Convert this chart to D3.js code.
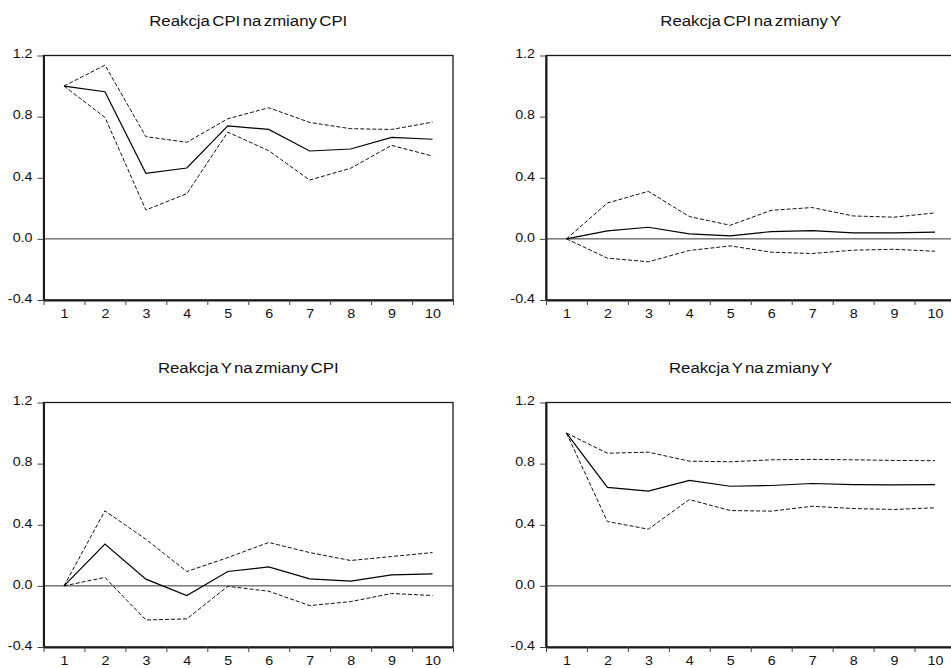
<!DOCTYPE html>
<html>
<head>
<meta charset="utf-8">
<script src="https://cdn.jsdelivr.net/npm/d3@7"></script>
<style>
  body { margin: 0; background: #fff; }
  text { font-family: "Liberation Sans", Arial, sans-serif; fill: #111; }
</style>
</head>
<body>
<script>
// horizons and tick values
var horizons = [1, 2, 3, 4, 5, 6, 7, 8, 9, 10];
var yTicks = [-0.4, 0.0, 0.4, 0.8, 1.2];

var titles = [
  "Reakcja CPI na zmiany CPI",
  "Reakcja CPI na zmiany Y",
  "Reakcja Y na zmiany CPI",
  "Reakcja Y na zmiany Y"
];

// CPI -> CPI
var cpiCpi    = [1.00, 0.963, 0.429, 0.464, 0.740, 0.716, 0.575, 0.588, 0.664, 0.652];
var cpiCpiUp  = [1.00, 1.137, 0.669, 0.632, 0.786, 0.858, 0.762, 0.721, 0.716, 0.764];
var cpiCpiLo  = [1.00, 0.795, 0.189, 0.296, 0.699, 0.577, 0.385, 0.462, 0.612, 0.542];

// Y -> CPI
var cpiY      = [0.00, 0.052, 0.076, 0.033, 0.020, 0.048, 0.054, 0.039, 0.039, 0.044];
var cpiYUp    = [0.00, 0.235, 0.311, 0.146, 0.089, 0.187, 0.205, 0.150, 0.142, 0.170];
var cpiYLo    = [0.00, -0.126, -0.150, -0.076, -0.046, -0.087, -0.096, -0.074, -0.068, -0.081];

// CPI -> Y
var yCpi      = [0.00, 0.273, 0.044, -0.063, 0.094, 0.124, 0.046, 0.031, 0.072, 0.079];
var yCpiUp    = [0.00, 0.491, 0.305, 0.094, 0.185, 0.284, 0.218, 0.166, 0.192, 0.218];
var yCpiLo    = [0.00, 0.055, -0.223, -0.216, -0.003, -0.035, -0.129, -0.103, -0.050, -0.063];

// Y -> Y
var yY        = [1.00, 0.644, 0.620, 0.690, 0.652, 0.657, 0.670, 0.663, 0.661, 0.663];
var yYUp      = [1.00, 0.868, 0.875, 0.816, 0.812, 0.825, 0.828, 0.825, 0.821, 0.819];
var yYLo      = [1.00, 0.421, 0.371, 0.565, 0.493, 0.489, 0.521, 0.506, 0.500, 0.511];

var series = [
  [cpiCpi, cpiCpiUp, cpiCpiLo],
  [cpiY, cpiYUp, cpiYLo],
  [yCpi, yCpiUp, yCpiLo],
  [yY, yYUp, yYLo]
];

var svgWidth = 951;
var svgHeight = 668;
var panelW = 409.5;
var panelH = 244.5;
var origins = [[43.5, 55.5], [546, 55.5], [43.5, 402.5], [546, 402.5]];

var svg = d3.select("body")
  .append("svg")
  .attr("width", svgWidth)
  .attr("height", svgHeight);

var x = d3.scaleLinear().domain([0.5, 10.5]).range([0, panelW]);
var y = d3.scaleLinear().domain([-0.4, 1.2]).range([panelH, 0]);

var line = d3.line()
  .x(function(d, i) { return x(horizons[i]); })
  .y(function(d) { return y(d); });

titles.forEach(function(title, p) {
  var g = svg.append("g")
    .attr("transform", `translate(${origins[p][0]}, ${origins[p][1]})`);

  // frame
  g.append("rect")
    .attr("width", panelW)
    .attr("height", panelH)
    .attr("fill", "none")
    .attr("stroke", "#1a1a1a")
    .attr("stroke-width", 1.3);

  // zero line
  g.append("line")
    .attr("x1", 0).attr("x2", panelW)
    .attr("y1", y(0)).attr("y2", y(0))
    .attr("stroke", "#333")
    .attr("stroke-width", 1);

  // bands (dashed) and response (solid)
  [1, 2].forEach(function(k) {
    g.append("path")
      .attr("d", line(series[p][k]))
      .attr("fill", "none")
      .attr("stroke", "#111")
      .attr("stroke-width", 1)
      .attr("stroke-dasharray", "4,2");
  });
  g.append("path")
    .attr("d", line(series[p][0]))
    .attr("fill", "none")
    .attr("stroke", "#000")
    .attr("stroke-width", 1.2);

  // bottom axis: boundary ticks
  var xTickAxis = g.append("g")
    .attr("transform", `translate(0, ${panelH})`)
    .call(d3.axisBottom(x)
      .tickValues(d3.range(0.5, 11, 1))
      .tickSize(5)
      .tickSizeOuter(0)
      .tickFormat(""));
  xTickAxis.select(".domain").attr("stroke", "#1a1a1a").attr("stroke-width", 1.8);
  xTickAxis.selectAll(".tick line").attr("stroke", "#444");

  // bottom axis: labels at centres
  var xLabAxis = g.append("g")
    .attr("transform", `translate(0, ${panelH})`)
    .call(d3.axisBottom(x)
      .tickValues(horizons)
      .tickSize(0)
      .tickPadding(8.5));
  xLabAxis.select(".domain").remove();
  xLabAxis.selectAll("text")
    .attr("font-size", 13)
    .attr("transform", "scale(1.1,1)");

  // left axis
  var yAxis = g.append("g")
    .call(d3.axisLeft(y)
      .tickValues(yTicks)
      .tickSize(6)
      .tickSizeOuter(0)
      .tickPadding(4)
      .tickFormat(function(d) { return d.toFixed(1); }));
  yAxis.select(".domain").attr("stroke", "#1a1a1a").attr("stroke-width", 2);
  yAxis.selectAll(".tick line").attr("stroke", "#444");
  yAxis.selectAll("text")
    .attr("font-size", 13)
    .attr("dy", "0.18em")
    .attr("transform", "scale(1.1,1)");

  // title
  g.append("g")
    .attr("transform", `translate(${panelW / 2}, -30)`)
    .append("text")
    .attr("text-anchor", "middle")
    .attr("font-size", 15)
    .attr("word-spacing", "-2px")
    .attr("fill", "#222")
    .attr("transform", "scale(1.12,1)")
    .text(title);
});
</script>
</body>
</html>
